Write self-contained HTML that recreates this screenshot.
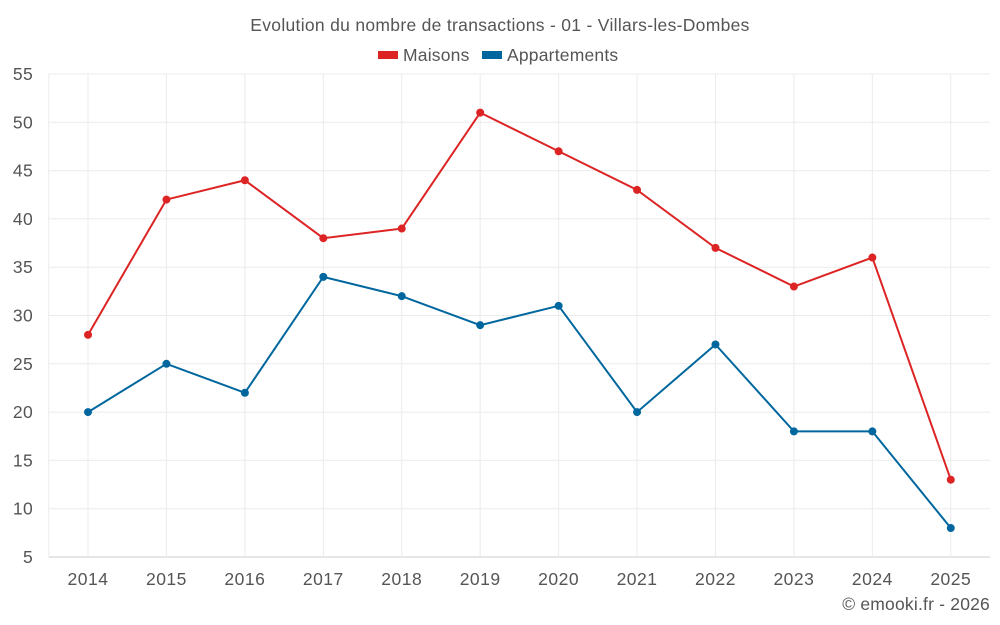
<!DOCTYPE html>
<html><head><meta charset="utf-8"><style>
body{margin:0;background:#fff;}
svg{display:block;font-family:"Liberation Sans",sans-serif;}
</style></head><body>
<svg id="chart" width="1000" height="625">
<text x="500" y="31" text-anchor="middle" font-size="17.5" letter-spacing="0.3" fill="#555">Evolution du nombre de transactions - 01 - Villars-les-Dombes</text>
<g>
<g><rect x="378" y="51" width="20" height="8" fill="#dd2424"/><text x="403" y="61" font-size="17.5" letter-spacing="0.2" fill="#555">Maisons</text></g>
<g><rect x="482" y="51" width="20" height="8" fill="#00679e"/><text x="507" y="61" font-size="17.5" letter-spacing="0.2" fill="#555">Appartements</text></g>
</g>
<g id="grid"></g><g id="axes"></g><g id="series"></g>
<text x="990" y="610" text-anchor="end" font-size="17.5" letter-spacing="0.2" fill="#555">© emooki.fr - 2026</text>
</svg>
<script>
const categories=["2014","2015","2016","2017","2018","2019","2020","2021","2022","2023","2024","2025"];
const maisons=[28,42,44,38,39,51,47,43,37,33,36,13];
const appartements=[20,25,22,34,32,29,31,20,27,18,18,8];
const yTicks=[5,10,15,20,25,30,35,40,45,50,55];
const NS="http://www.w3.org/2000/svg";
const L=48.8,R=990,T=74,B=557,ymin=5,ymax=55;
const bw=(R-L)/categories.length;
const x=i=>L+bw*(i+0.5);
const y=v=>B-(v-ymin)/(ymax-ymin)*(B-T);
function mk(t,a,p){const e=document.createElementNS(NS,t);for(const k in a)e.setAttribute(k,a[k]);p.appendChild(e);return e;}
const grid=document.getElementById('grid'),axes=document.getElementById('axes'),series=document.getElementById('series');
yTicks.forEach(v=>{
const l=mk('line',{x1:L,x2:R,y1:y(v),y2:y(v),stroke:v===ymin?'#ccc':'#ebebeb','stroke-width':1},grid);


const t=mk('text',{x:33,y:y(v)+6,'text-anchor':'end','font-size':17.5,'letter-spacing':0.3,fill:'#555'},axes);
t.textContent=v;


});
categories.forEach((c,i)=>{
const l=mk('line',{x1:x(i),x2:x(i),y1:T,y2:B,stroke:'#ebebeb','stroke-width':1},grid);


const t=mk('text',{x:x(i),y:585,'text-anchor':'middle','font-size':17.5,'letter-spacing':0.5,fill:'#555'},axes);
t.textContent=c;


});
mk('line',{x1:L,x2:L,y1:T,y2:B,stroke:'#ebebeb'},grid);
function draw(data,color,name){
const p=mk('polyline',{points:data.map((v,i)=>x(i)+','+y(v)).join(' '),fill:'none',stroke:color,'stroke-width':2},series);


data.forEach((v,i)=>{
const c=mk('circle',{cx:x(i),cy:y(v),r:4,fill:color},series);


});
}
draw(maisons,'#dd2424','maisons');
draw(appartements,'#00679e','appartements');
</script>
</body></html>
